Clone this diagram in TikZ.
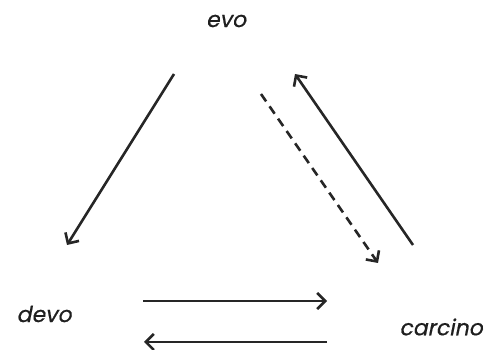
\documentclass[tikz,border=0pt]{standalone}
\usepackage{fontspec}
\newfontfamily\labelfont[FakeSlant=0.2,FakeBold=0.6]{Poppins}
\usetikzlibrary{arrows.meta}
\tikzset{
  lbl/.style={font=\labelfont\fontsize{22}{26}\selectfont, text=black!88, inner sep=0pt},
  link/.style={line width=2.6pt, draw=black!85, -{Straight Barb[length=8pt,width=16pt,line width=2.6pt]}},
  hint/.style={link, dash pattern=on 9pt off 6pt}
}
\begin{document}
\begin{tikzpicture}[x=1pt,y=-1pt]
  \useasboundingbox (0,0) rectangle (491,350);
  \node[lbl] (evo) at (226,21) {evo};
  \node[lbl] (devo) at (44,314) {devo};
  \node[lbl] (carcino) at (441,327) {carcino};
  % endpoints of the connectors
  \coordinate (eL) at (174,74);
  \coordinate (dT) at (67,245);
  \coordinate (eD) at (261,94);
  \coordinate (cD) at (378,263);
  \coordinate (cU) at (413,245);
  \coordinate (eU) at (295,74);
  \coordinate (dR) at (143,301);
  \coordinate (cL) at (327,301);
  \coordinate (cB) at (327,342);
  \coordinate (dB) at (144,342);
  \draw[link] (eL) -- (dT);
  \draw[hint] (eD) -- (cD);
  \draw[link] (cU) -- (eU);
  \draw[link] (dR) -- (cL);
  \draw[link] (cB) -- (dB);
\end{tikzpicture}
\end{document}
